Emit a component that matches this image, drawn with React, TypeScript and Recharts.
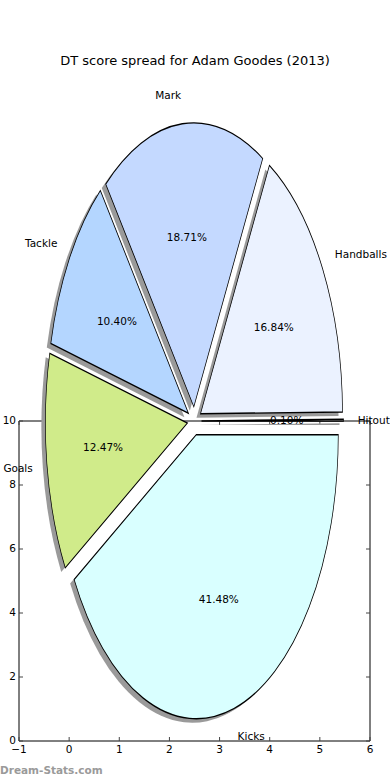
import { PieChart, Pie, Cell, ScatterChart, Scatter, XAxis, YAxis } from 'recharts';

const categories = ['Hitout', 'Handballs', 'Mark', 'Tackle', 'Goals', 'Kicks'];
const shares = [0.1, 16.84, 18.71, 10.4, 12.47, 41.48];
const sliceColors = ['#ffffff', '#ebf2ff', '#c4d9ff', '#b4d6ff', '#d0eb8a', '#d9ffff'];
const xTicks = [-1, 0, 1, 2, 3, 4, 5, 6];
const yTicks = [0, 2, 4, 6, 8, 10];

const pieData = categories.map((name, i) => ({ name, value: shares[i] }));

// pie geometry (matplotlib pie drawn on stretched axes)
const R = 142;
const K = 2.0;
const CX = 194.4;
const CY = 421;
const EXPLODE = 0.05;
const SHADOW_DX = -4;
const SHADOW_DY = 4;

const FONT = 'DejaVu Sans, sans-serif';

const total = shares.reduce((a, b) => a + b, 0);
const midAngles = shares.map((v, i) => {
  const before = shares.slice(0, i).reduce((a, b) => a + b, 0);
  return ((before + v / 2) / total) * 360;
});

const unstretch = (y: number) => `translate(0 ${y}) scale(1 ${1 / K}) translate(0 ${-y})`;

function makeLabel(slice: number) {
  return (p: any) => {
    if (p.index !== slice) return null;
    const a = (p.midAngle * Math.PI) / 180;
    const cos = Math.cos(a);
    const sin = Math.sin(a);
    const nx = p.cx + 1.1 * R * cos;
    const ny = p.cy - 1.1 * R * sin;
    const px = p.cx + 0.6 * R * cos;
    const py = p.cy - 0.6 * R * sin;
    return (
      <g>
        <text x={nx} y={ny} transform={unstretch(ny)} textAnchor={cos > 0 ? 'start' : 'end'}
          dominantBaseline="central" fontFamily={FONT} fontSize={10.5} fill="#000">
          {p.name}
        </text>
        <text x={px} y={py} transform={unstretch(py)} textAnchor="middle"
          dominantBaseline="central" fontFamily={FONT} fontSize={10.5} fill="#000">
          {(p.percent * 100).toFixed(2)}%
        </text>
      </g>
    );
  };
}

const fmt = (v: number) => String(v).replace('-', '\u2212');

function BottomTick(props: any) {
  const { x, y, payload } = props;
  return (
    <g>
      <line x1={x} x2={x} y1={y} y2={y - 4} stroke="#444" />
      <text x={x} y={y + 12} textAnchor="middle" fontFamily={FONT} fontSize={10.5} fill="#000">
        {fmt(payload.value)}
      </text>
    </g>
  );
}

function TopTick(props: any) {
  const { x, y } = props;
  return <line x1={x} x2={x} y1={y} y2={y + 4} stroke="#444" />;
}

function LeftTick(props: any) {
  const { x, y, payload } = props;
  return (
    <g>
      <line x1={x} x2={x + 4} y1={y} y2={y} stroke="#444" />
      <text x={x - 3} y={y - 1} textAnchor="end" dominantBaseline="central" fontFamily={FONT}
        fontSize={10.5} fill="#000">
        {fmt(payload.value)}
      </text>
    </g>
  );
}

function RightTick(props: any) {
  const { x, y } = props;
  return <line x1={x} x2={x - 4} y1={y} y2={y} stroke="#444" />;
}

export default function App() {
  return (
    <div style={{ position: 'absolute', left: 0, top: 0, width: 390, height: 780, background: '#fff' }}>
      <div style={{ position: 'absolute', left: 0, top: 0 }}>
        <ScatterChart width={390} height={780} margin={{ top: 420, right: 19, bottom: 0, left: 0 }}>
          <XAxis xAxisId="b" type="number" dataKey="x" domain={[-1, 6]} ticks={xTicks} height={39}
            orientation="bottom" axisLine={{ stroke: '#000' }} tickLine={false} tickSize={0}
            tickMargin={0} tick={<BottomTick />} interval={0} allowDataOverflow />
          <XAxis xAxisId="t" type="number" dataKey="x" domain={[-1, 6]} ticks={xTicks} height={1}
            orientation="top" axisLine={{ stroke: '#000' }} tickLine={false} tickSize={0}
            tickMargin={0} tick={<TopTick />} interval={0} allowDataOverflow />
          <YAxis yAxisId="l" type="number" dataKey="y" domain={[0, 10]} ticks={yTicks} width={19}
            orientation="left" axisLine={{ stroke: '#000' }} tickLine={false} tickSize={0}
            tickMargin={0} tick={<LeftTick />} interval={0} allowDataOverflow />
          <YAxis yAxisId="r" type="number" dataKey="y" domain={[0, 10]} ticks={yTicks} width={1}
            orientation="right" axisLine={{ stroke: '#000' }} tickLine={false} tickSize={0}
            tickMargin={0} tick={<RightTick />} interval={0} allowDataOverflow />
          <Scatter data={[]} xAxisId="b" yAxisId="l" isAnimationActive={false} />
          <Scatter data={[]} xAxisId="t" yAxisId="r" isAnimationActive={false} />
        </ScatterChart>
      </div>

      <div style={{ position: 'absolute', left: 0, top: 0, transform: `scaleY(${K})`,
        transformOrigin: '0 0' }}>
        <PieChart width={390} height={400} margin={{ top: 0, right: 0, bottom: 0, left: 0 }}>
          {categories.map((name, i) => {
            const a = (midAngles[i] * Math.PI) / 180;
            const ox = CX + EXPLODE * R * Math.cos(a);
            const oy = CY / K - EXPLODE * R * Math.sin(a);
            return [
              <Pie key={`s-${name}`} data={pieData} dataKey="value" nameKey="name"
                cx={ox + SHADOW_DX} cy={oy + SHADOW_DY / K} outerRadius={R}
                isAnimationActive={false} labelLine={false} stroke="none">
                {pieData.map((d, j) => (
                  <Cell key={d.name} fill={j === i ? '#9a9a9a' : 'none'} stroke="none" />
                ))}
              </Pie>,
              <Pie key={`p-${name}`} data={pieData} dataKey="value" nameKey="name"
                cx={ox} cy={oy} outerRadius={R} isAnimationActive={false}
                labelLine={false} label={makeLabel(i)}>
                {pieData.map((d, j) => (
                  <Cell key={d.name} fill={j === i ? sliceColors[j] : 'none'}
                    stroke={j === i ? '#000' : 'none'} strokeWidth={0.7} />
                ))}
              </Pie>,
            ];
          })}
        </PieChart>
      </div>

      <div style={{ position: 'absolute', left: 0, top: 52, width: 390, textAlign: 'center',
        fontFamily: FONT, fontSize: 13, color: '#000', lineHeight: '18px' }}>
        DT score spread for Adam Goodes (2013)
      </div>
      <div style={{ position: 'absolute', left: 0, top: 763, fontFamily: FONT, fontSize: 10.5,
        fontWeight: 'bold', color: '#9a9a9a', lineHeight: '14px' }}>
        Dream-Stats.com
      </div>
    </div>
  );
}
